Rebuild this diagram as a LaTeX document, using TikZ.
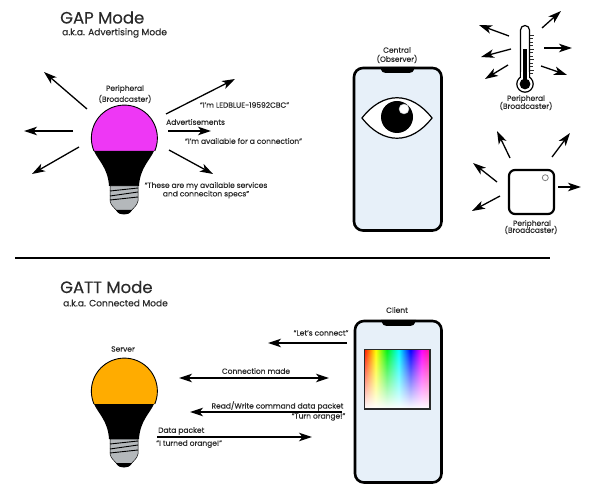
\documentclass[tikz,border=0pt]{standalone}
\usepackage{fontspec}
\setmainfont{Poppins}[FakeBold=0.25]
\usetikzlibrary{arrows.meta,fadings}
\definecolor{ink}{HTML}{2A2A2A}
\definecolor{screen}{HTML}{E7F0F9}
\definecolor{screwgray}{HTML}{B4B8BB}
\definecolor{magentab}{HTML}{EE37F5}
\definecolor{orangeb}{HTML}{FFAC00}
\definecolor{sred}{rgb}{1,0.1,0}
\definecolor{syel}{rgb}{1,1,0}
\definecolor{sgre}{rgb}{0,0.95,0.1}
\definecolor{scya}{rgb}{0,1,1}
\definecolor{sblu}{rgb}{0,0,1}
\definecolor{smag}{rgb}{1,0,1}
\definecolor{sros}{rgb}{1,0.1,0.55}
\pgfdeclarehorizontalshading{spectrum}{100bp}{
 color(0bp)=(sred); color(25bp)=(sred); color(33.5bp)=(syel);
 color(42bp)=(sgre); color(51bp)=(scya); color(60bp)=(sblu);
 color(68.5bp)=(smag); color(75bp)=(sros); color(100bp)=(sros)}
\tikzset{
 x=1pt,y=-1pt,
 sig/.style={line width=1.3pt,black,-{Stealth[length=13pt,width=8.5pt,inset=3.5pt]},shorten >=0pt},
 sigboth/.style={sig,{Stealth[length=13pt,width=8.5pt,inset=3.5pt]}-{Stealth[length=13pt,width=8.5pt,inset=3.5pt]}},
 title/.style={anchor=west,inner sep=0pt,font=\fontsize{16.5}{17}\selectfont,text=ink},
 sub/.style={anchor=west,inner sep=0pt,font=\fontsize{9.1}{9}\selectfont,text=ink},
 lab/.style={inner sep=0pt,font=\fontsize{7.5}{7}\selectfont,text=ink},
 phone/.style={draw=black,line width=2.6pt,fill=screen,rounded corners=9pt},
 bulb/.pic={
  \fill[pic actions] (94,151) arc[start angle=157,end angle=383,radius=33] -- cycle;
  \fill[black] (94,151) -- (154,151) .. controls (150,160) and (140,168) .. (139,186)
    -- (109,186) .. controls (108,168) and (98,160) .. (94,151) -- cycle;
  \draw[black,line width=0.9pt] (94,151) arc[start angle=157,end angle=383,radius=33];
  \fill[screwgray,draw=black,line width=0.5pt] (110,186) -- (138,186) -- (138,201)
    .. controls (137,206) and (133,208) .. (131,211) -- (117,211)
    .. controls (115,208) and (111,206) .. (110,201) -- cycle;
  \draw[black,line width=0.9pt] (110,191) -- (138,188) (110,196) -- (138,192) (110,200) -- (138,197);
  \fill[black] (116,210) -- (132,210) .. controls (130,214) and (127,214.5) .. (124,214.5)
    .. controls (121,214.5) and (118,214) .. (116,210) -- cycle;
 }
}
\begin{document}
\begin{tikzpicture}
\useasboundingbox (0,0) rectangle (600,494);
\fill[white] (0,0) rectangle (600,494);

% titles
\node[title] (gaptitle) at (60,17.5) {GAP Mode};
\node[sub] (gapsub) at (62,33) {a.k.a. Advertising Mode};
\node[title] (gatttitle) at (60,287) {GATT Mode};
\node[sub] (gattsub) at (63,303) {a.k.a. Connected Mode};

% divider
\coordinate (ruleL) at (15,258);
\coordinate (ruleR) at (550,258);
\draw[black,line width=2.6pt] (ruleL) -- (ruleR);

% bulbs
\pic[fill=magentab] (gapbulb) at (0,0) {bulb};
\pic[fill=orangeb] (gattbulb) at (0,253) {bulb};

% phones
\node[lab] (central) at (397,50) {Central};
\node[lab] (observer) at (397,59) {(Observer)};
\draw[phone] (354,68) rectangle (441.5,230.5);
\fill[black] (380,67) .. controls (382,72.5) and (383,73) .. (386,73) -- (409,73)
  .. controls (412,73) and (413,72.5) .. (415,67) -- cycle;
\node[lab] (client) at (397,310) {Client};
\draw[phone] (355,321) rectangle (441.5,482.5);
\fill[black] (381,320) .. controls (383,325.5) and (384,326) .. (387,326) -- (410,326)
  .. controls (413,326) and (414,325.5) .. (416,320) -- cycle;

% eye
\draw[black,line width=1.2pt,fill=white] (362,118) .. controls (383,91) and (411,91) .. (432,118)
  .. controls (411,145) and (383,145) .. (362,118) -- cycle;
\fill[black] (397,117) circle[radius=16];
\fill[white] (404,109) circle[radius=5];
\draw[screwgray,line width=0.4pt] (404,109) circle[radius=5];

% colour picker
\shade[shading=spectrum] (364.5,349.5) rectangle (430,409);
\fill[white,path fading=north] (364.5,349.5) rectangle (430,409);
\draw[ink,line width=1.1pt] (364.5,349.5) rectangle (430,409);

% thermometer
\draw[black,line width=1.2pt,fill=white] (525,84) circle[radius=8.2];
\draw[black,line width=1.2pt,fill=white] (520.5,78) -- (520.5,30) arc[start angle=180,end angle=360,radius=4.5] -- (529.5,78);
\fill[white] (521.1,72) rectangle (528.9,84);
\fill[black] (525,84) circle[radius=5.4];
\fill[black] (523,49) rectangle (527,84);
\foreach \ty/\tl in {35/4,38.5/2.5,42/2.5,45.5/2.5,49/4,52.5/2.5,56/2.5,59.5/4,63/2.5,66.5/2.5,70/4,73/2.5}
  \draw[ink,line width=0.5pt] (530,\ty) -- ++(\tl,0);

% beacon
\draw[black,line width=2.2pt,fill=white,rounded corners=6pt] (509,170) rectangle (554,214);
\draw[gray,line width=0.8pt,fill=white] (545.3,177.7) circle[radius=3];

% radiating signal arrows
\foreach \nm/\xa/\ya/\xb/\yb in {
  sa/87/109/44/72, sb/73/131/24/131, sc/79/147/32/174,
  sd/166/114/235/79, se/168/131/211/131, sf/169/150/213/174,
  sg/509/36/479/25, sh/511/49/481/57, si/508/65/485/79,
  sj/542/28/561/11, sk/544/48/572/48, sl/541/66/567/75,
  sm/510/158/497/131, sn/552/157/570/133, so/497/182/473/163,
  sp/500/196/472/211, sq/558/187/581/187,
  sr/347/343/268/343, st/342/412/190/412, su/157/437/312/437}
{
  \coordinate (\nm-from) at (\xa,\ya);
  \coordinate (\nm-to) at (\xb,\yb);
  \draw[sig] (\nm-from) -- (\nm-to);
}
\coordinate (both1) at (179,378);
\coordinate (both2) at (329,378);
\draw[sigboth] (both1) -- (both2);

% labels
\node[lab] (p1a) at (125,89) {Peripheral};
\node[lab] (p1b) at (125,99) {(Broadcaster)};
\node[lab] (m1) at (244.5,105) {“I'm LEDBLUE-19592CBC”};
\node[lab,anchor=west] (adv) at (166,122) {Advertisements};
\node[lab] (m2) at (243.5,141) {“I'm available for a connection”};
\node[lab] (m3) at (206,186) {“These are my available services};
\node[lab] (m4) at (206,194.5) {and conneciton specs”};
\node[lab] (p2a) at (526,99) {Peripheral};
\node[lab] (p2b) at (526,106) {(Broadcaster)};
\node[lab] (p3a) at (532,224) {Peripheral};
\node[lab] (p3b) at (531,230) {(Broadcaster)};
\node[lab] (server) at (123,349) {Server};
\node[lab] (g1) at (321,333) {“Let's connect”};
\node[lab] (g2) at (256,371) {Connection made};
\node[lab] (g3) at (277.5,406) {Read/Write command data packet};
\node[lab] (g4) at (318.5,417) {“Turn orange!”};
\node[lab,anchor=west] (g5) at (158,431) {Data packet};
\node[lab,anchor=west] (g6) at (156,444) {“I turned orange!”};
\end{tikzpicture}
\end{document}
